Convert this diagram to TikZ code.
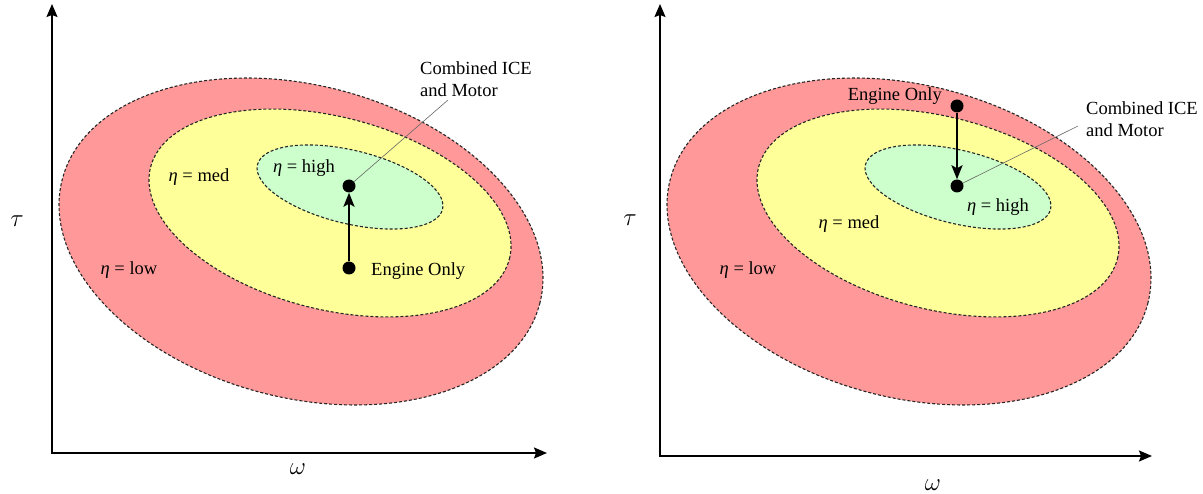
\documentclass[tikz,border=0pt]{standalone}
\usepackage{fontspec}
\setmainfont{Liberation Serif}
\usetikzlibrary{arrows.meta}
\definecolor{redfill}{RGB}{255,153,153}
\definecolor{yelfill}{RGB}{255,255,153}
\definecolor{grnfill}{RGB}{204,255,204}
\begin{document}
\begin{tikzpicture}[x=1pt,y=-1pt,
  every node/.style={font=\fontsize{18.5}{22}\selectfont},
  zone/.style={draw=black!85, line width=1.1pt, dash pattern=on 3pt off 2pt},
  axis/.style={line width=1.8pt, line join=miter, {Stealth[length=13pt,width=11pt,inset=2pt]}-{Stealth[length=13pt,width=11pt,inset=2pt]}},
  move/.style={line width=2.4pt, -{Stealth[length=14pt,width=11pt,inset=3pt]}},
  dot/.style={circle, fill=black, inner sep=0pt, minimum size=13pt},
  leader/.style={draw=black!60, line width=0.6pt},
  lbl/.style={inner sep=0pt},
  axlbl/.style={inner sep=0pt, font=\fontsize{28}{32}\selectfont}]
\useasboundingbox (0,0) rectangle (1203,494);

% ---------------- left panel ----------------
\coordinate (yL) at (52,4);
\coordinate (xL) at (547,453);
\draw[axis] (yL) |- (xL);
\draw[zone, fill=redfill, rotate around={-14.6:(301,241.5)}] (301,241.5) ellipse [x radius=246.7pt, y radius=156.2pt];
\draw[zone, fill=yelfill, rotate around={-14.3:(330,213)}] (330,213) ellipse [x radius=185.2pt, y radius=96.3pt];
\draw[zone, fill=grnfill, rotate around={-13.5:(350,187)}] (350,187) ellipse [x radius=95.2pt, y radius=36.7pt];
\node[axlbl] (tauL) at (17,221) {$\tau$};
\node[axlbl] (omL) at (298,469) {$\omega$};
\node[lbl] (hiL) at (304,168) {\textit{η} = high};
\node[lbl] (medL) at (199,177) {\textit{η} = med};
\node[lbl] (lowL) at (129,270) {\textit{η} = low};
\node[dot] (engL) at (349,268) {};
\node[dot] (cmbL) at (349,186) {};
\node[lbl, anchor=west] (engtL) at (371,271) {Engine Only};
\node[lbl, anchor=west, align=left] (cmbtL) at (420,79) {Combined ICE\\and Motor};
\coordinate (ldL) at (448,100);
\draw[move] (engL) -- (cmbL);
\draw[leader] (cmbL) -- (ldL);

% ---------------- right panel ----------------
\coordinate (yR) at (660,4);
\coordinate (xR) at (1152,456);
\draw[axis] (yR) |- (xR);
\draw[zone, fill=redfill, rotate around={-14.6:(909,241.5)}] (909,241.5) ellipse [x radius=246.7pt, y radius=156.2pt];
\draw[zone, fill=yelfill, rotate around={-14.3:(938,213)}] (938,213) ellipse [x radius=185.2pt, y radius=96.3pt];
\draw[zone, fill=grnfill, rotate around={-13.5:(958,187)}] (958,187) ellipse [x radius=95.2pt, y radius=36.7pt];
\node[axlbl] (tauR) at (630,220) {$\tau$};
\node[axlbl] (omR) at (933,485) {$\omega$};
\node[lbl] (hiR) at (998,207) {\textit{η} = high};
\node[lbl] (medR) at (849,224) {\textit{η} = med};
\node[lbl] (lowR) at (748,270) {\textit{η} = low};
\node[dot] (engR) at (957,106) {};
\node[dot] (cmbR) at (957,186) {};
\node[lbl, anchor=east] (engtR) at (942,96) {Engine Only};
\node[lbl, anchor=west, align=left] (cmbtR) at (1086,119) {Combined ICE\\and Motor};
\coordinate (ldR) at (1078,126);
\draw[move] (engR) -- (cmbR);
\draw[leader] (cmbR) -- (ldR);
\end{tikzpicture}
\end{document}
